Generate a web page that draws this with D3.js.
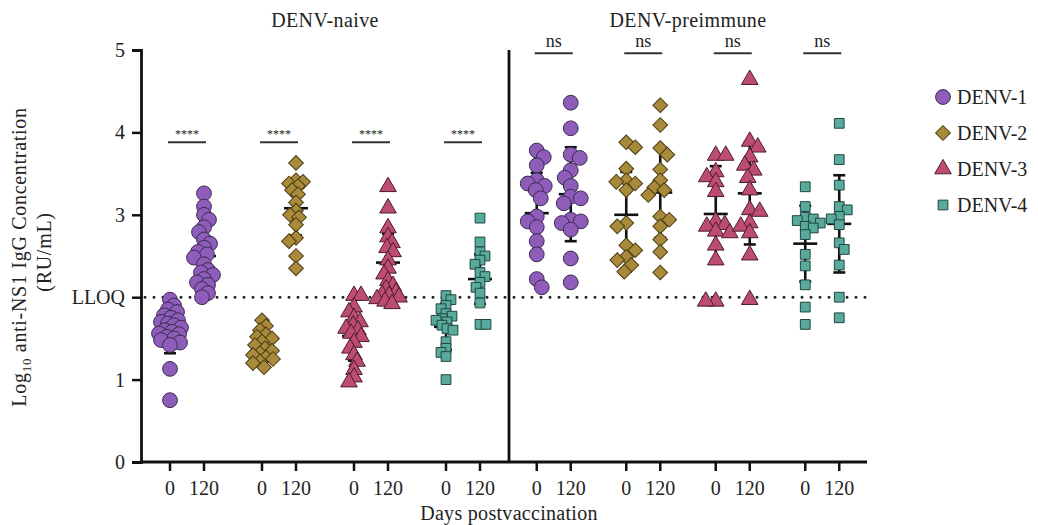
<!DOCTYPE html>
<html><head><meta charset="utf-8">
<script src="https://cdn.jsdelivr.net/npm/d3@7"></script>
<style>
body{margin:0;background:#fff;}
svg text{font-family:"Liberation Serif","Times New Roman",serif;fill:#222;}
</style></head>
<body><svg id="chart" width="1038" height="525"></svg>
<script>
// ---------- data ----------
const serotypes = ["DENV-1","DENV-2","DENV-3","DENV-4"];
const days = ["0","120"];
const panels = ["DENV-naive","DENV-preimmune"];
const yTickValues = [0,1,2,3,4,5];
const yTickLabels = ["0","1","LLOQ","3","4","5"];
const lloq = 2;

// DENV-naive, log10 values per serotype, day 0 and day 120
const naiveDenv1Day0 = [1.97,1.9,1.85,1.82,1.78,1.75,1.72,1.7,1.68,1.66,1.63,1.6,1.58,1.56,1.55,1.52,1.5,1.48,1.45,1.42,1.13,0.75];
const naiveDenv1Day120 = [3.26,3.1,3.0,2.94,2.85,2.79,2.7,2.65,2.6,2.55,2.52,2.48,2.4,2.33,2.3,2.27,2.22,2.18,2.15,2.1,2.05,2.0];
const naiveDenv2Day0 = [1.72,1.65,1.6,1.55,1.52,1.5,1.46,1.42,1.38,1.35,1.32,1.3,1.27,1.25,1.22,1.2,1.15];
const naiveDenv2Day120 = [3.63,3.42,3.4,3.38,3.35,3.3,3.25,3.15,3.05,3.0,2.97,2.88,2.72,2.68,2.5,2.35];
const naiveDenv3Day0 = [2.02,2.02,1.88,1.82,1.75,1.7,1.66,1.62,1.6,1.56,1.52,1.45,1.38,1.3,1.22,1.12,1.03,0.97];
const naiveDenv3Day120 = [3.34,3.08,2.84,2.73,2.66,2.6,2.55,2.45,2.35,2.28,2.2,2.14,2.1,2.06,2.03,2.02,2.0,1.98,1.95,1.92];
const naiveDenv4Day0 = [2.02,1.97,1.9,1.86,1.8,1.77,1.74,1.72,1.7,1.66,1.62,1.6,1.46,1.38,1.33,1.28,1.0];
const naiveDenv4Day120 = [2.96,2.67,2.55,2.5,2.45,2.4,2.3,2.25,2.18,2.12,2.05,1.93,1.67,1.67];
// DENV-preimmune
const preDenv1Day0 = [3.78,3.7,3.6,3.42,3.38,3.35,3.3,3.2,2.98,2.92,2.85,2.68,2.52,2.22,2.12];
const preDenv1Day120 = [4.36,4.05,3.73,3.69,3.54,3.45,3.35,3.22,3.2,3.14,2.94,2.92,2.9,2.82,2.47,2.18];
const preDenv2Day0 = [3.88,3.82,3.56,3.42,3.4,3.38,3.3,2.9,2.86,2.63,2.57,2.49,2.45,2.39,2.31];
const preDenv2Day120 = [4.33,4.09,3.81,3.73,3.55,3.42,3.33,3.3,3.24,2.98,2.94,2.86,2.7,2.55,2.3];
const preDenv3Day0 = [3.72,3.72,3.52,3.46,3.4,3.28,2.92,2.88,2.86,2.8,2.78,2.63,2.45,1.95,1.95];
const preDenv3Day120 = [4.64,3.89,3.82,3.7,3.6,3.54,3.45,3.3,3.06,3.04,2.9,2.86,2.78,2.51,1.97];
const preDenv4Day0 = [3.34,3.1,2.97,2.95,2.93,2.9,2.86,2.84,2.76,2.52,2.38,2.15,1.88,1.67];
const preDenv4Day120 = [4.11,3.67,3.36,3.1,3.06,2.98,2.95,2.88,2.66,2.58,2.39,2.0,1.75];

// group means and SDs [day0, day120]
const naiveMeans = [[1.6,2.5],[1.41,3.08],[1.53,2.42],[1.64,2.22]];
const naiveSDs   = [[0.28,0.35],[0.17,0.33],[0.3,0.35],[0.28,0.3]];
const preMeans   = [[3.02,3.25],[3.0,3.27],[3.01,3.26],[2.65,2.89]];
const preSDs     = [[0.49,0.57],[0.52,0.55],[0.58,0.62],[0.46,0.59]];

const naiveSig = ["****","****","****","****"];
const preSig = ["ns","ns","ns","ns"];

// ---------- layout ----------
const svg = d3.select("#chart");
const colors = ["#8d5db9","#a98a3a","#bd4d70","#58aa9d"];
const strokes = ["#3b2a52","#4a3b14","#4d1d2c","#21463f"];
const yAxisX = 141, xEnd = 867, divX = 509;
const y = d3.scaleLinear().domain([0,5]).range([462,50]);
const xNaive = d3.scaleBand().domain(serotypes).range([yAxisX, divX]);
const xPre = d3.scaleBand().domain(serotypes).range([divX, xEnd]);
const xDay = d3.scalePoint().domain(days).range([-17,17]);

const symbolDefs = [
  {type:d3.symbolCircle,size:172,rot:0},
  {type:d3.symbolSquare,size:108,rot:45},
  {type:d3.symbolTriangle,size:120,rot:0},
  {type:d3.symbolSquare,size:95,rot:0}
];
function symPath(i){ return d3.symbol().type(symbolDefs[i].type).size(symbolDefs[i].size)(); }

const groups = [
  {panel:0, data:[[naiveDenv1Day0,naiveDenv1Day120],[naiveDenv2Day0,naiveDenv2Day120],[naiveDenv3Day0,naiveDenv3Day120],[naiveDenv4Day0,naiveDenv4Day120]], means:naiveMeans, sds:naiveSDs, x:xNaive, minD:7, maxW:11},
  {panel:1, data:[[preDenv1Day0,preDenv1Day120],[preDenv2Day0,preDenv2Day120],[preDenv3Day0,preDenv3Day120],[preDenv4Day0,preDenv4Day120]], means:preMeans, sds:preSDs, x:xPre, minD:9.5, maxW:15}
];

// beeswarm offsets (layout only)
function swarm(values, minD, maxW){
  const idx = values.map((v,i)=>i).sort((a,b)=>values[b]-values[a]);
  const placed = [], off = new Array(values.length).fill(0);
  let flip = 1;
  idx.forEach(i=>{
    const py = y(values[i]);
    let best = 0, bestScore = -1;
    const cands = [0];
    for(let d=1; d<=maxW; d++){ cands.push(d*flip, -d*flip); }
    for(const c of cands){
      let md = Infinity;
      for(const p of placed){ const dd = Math.hypot(p[0]-c, p[1]-py); if(dd<md) md=dd; }
      if(md >= minD){ best = c; break; }
      if(md > bestScore){ bestScore = md; best = c; }
    }
    if(best !== 0) flip = -Math.sign(best);
    placed.push([best, py]); off[i] = best;
  });
  return off;
}

// LLOQ dotted line
svg.append("line").attr("x1",yAxisX+4).attr("x2",xEnd).attr("y1",y(lloq)).attr("y2",y(lloq))
  .attr("stroke","#222").attr("stroke-width",3).attr("stroke-dasharray","0,9").attr("stroke-linecap","round");

// error bars then points
groups.forEach(g=>{
  serotypes.forEach((s,si)=>{
    days.forEach((d,di)=>{
      const cx = g.x(s) + g.x.bandwidth()/2 + xDay(d);
      const m = g.means[si][di], sd = g.sds[si][di];
      const eb = svg.append("g").attr("stroke","#111").attr("stroke-width",2.6);
      eb.append("line").attr("x1",cx).attr("x2",cx).attr("y1",y(m+sd)).attr("y2",y(m-sd));
      eb.append("line").attr("x1",cx-12).attr("x2",cx+12).attr("y1",y(m)).attr("y2",y(m));
      eb.append("line").attr("x1",cx-6).attr("x2",cx+6).attr("y1",y(m+sd)).attr("y2",y(m+sd));
      eb.append("line").attr("x1",cx-6).attr("x2",cx+6).attr("y1",y(m-sd)).attr("y2",y(m-sd));
    });
  });
});
groups.forEach(g=>{
  serotypes.forEach((s,si)=>{
    days.forEach((d,di)=>{
      const cx = g.x(s) + g.x.bandwidth()/2 + xDay(d);
      const vals = g.data[si][di];
      const offs = swarm(vals, si===3 ? g.minD*0.85 : g.minD, g.maxW);
      svg.append("g").selectAll("path").data(vals).join("path")
        .attr("d", symPath(si))
        .attr("transform",(v,i)=>`translate(${cx+offs[i]},${y(v)}) rotate(${symbolDefs[si].rot})`)
        .attr("fill",colors[si]).attr("stroke",strokes[si]).attr("stroke-width",1);
    });
  });
});

// significance annotations
serotypes.forEach((s,si)=>{
  const cx = xNaive(s)+xNaive.bandwidth()/2;
  svg.append("line").attr("x1",cx-19).attr("x2",cx+19).attr("y1",y(3.88)).attr("y2",y(3.88)).attr("stroke","#333").attr("stroke-width",2);
  svg.append("text").attr("x",cx).attr("y",y(3.88)-4).attr("text-anchor","middle").attr("font-size",12).attr("fill","#444").text(naiveSig[si]);
  const px = xPre(s)+xPre.bandwidth()/2;
  svg.append("line").attr("x1",px-19).attr("x2",px+19).attr("y1",y(4.96)).attr("y2",y(4.96)).attr("stroke","#333").attr("stroke-width",2);
  svg.append("text").attr("x",px).attr("y",y(4.96)-6).attr("text-anchor","middle").attr("font-size",18).text(preSig[si]);
});

// axes
const yAxis = d3.axisLeft(y).tickValues(yTickValues).tickFormat((d,i)=>yTickLabels[i]).tickSize(9).tickPadding(7);
const ga = svg.append("g").attr("transform",`translate(${yAxisX},0)`).call(yAxis);
ga.select(".domain").attr("stroke","#111").attr("stroke-width",2.8);
ga.selectAll(".tick line").attr("stroke","#111").attr("stroke-width",2.5);
ga.selectAll("text").attr("font-size",20).attr("font-family","Liberation Serif, serif").attr("fill","#222");

[xNaive, xPre].forEach(xs=>{
  serotypes.forEach(s=>{
    days.forEach(d=>{
      const cx = xs(s)+xs.bandwidth()/2+xDay(d);
      svg.append("line").attr("x1",cx).attr("x2",cx).attr("y1",462).attr("y2",471).attr("stroke","#111").attr("stroke-width",2.5);
      svg.append("text").attr("x",cx).attr("y",495).attr("text-anchor","middle").attr("font-size",20).text(d);
    });
  });
});
svg.append("line").attr("x1",yAxisX-1).attr("x2",xEnd).attr("y1",462).attr("y2",462).attr("stroke","#111").attr("stroke-width",2.8);
svg.append("line").attr("x1",divX).attr("x2",divX).attr("y1",50).attr("y2",462).attr("stroke","#111").attr("stroke-width",2.8);

// titles
svg.append("text").attr("x",(yAxisX+divX)/2).attr("y",27).attr("text-anchor","middle").attr("font-size",20).attr("letter-spacing",0.4).text(panels[0]);
svg.append("text").attr("x",688).attr("y",27).attr("text-anchor","middle").attr("font-size",20).attr("letter-spacing",0.4).text(panels[1]);
svg.append("text").attr("x",509).attr("y",520).attr("text-anchor","middle").attr("font-size",20).attr("letter-spacing",0.3).text("Days postvaccination");

const yl = svg.append("text").attr("transform","translate(26,257) rotate(-90)").attr("text-anchor","middle").attr("font-size",20).attr("letter-spacing",0.7);
yl.append("tspan").text("Log");
yl.append("tspan").attr("font-size",13).attr("dy",5).text("10");
yl.append("tspan").attr("dy",-5).text(" anti-NS1 IgG Concentration");
svg.append("text").attr("transform","translate(51,252) rotate(-90)").attr("text-anchor","middle").attr("font-size",20).attr("letter-spacing",0.7).text("(RU/mL)");

// legend
serotypes.forEach((s,si)=>{
  const ly = 97 + si*36;
  svg.append("path").attr("d",symPath(si)).attr("transform",`translate(943,${ly}) rotate(${symbolDefs[si].rot})`)
    .attr("fill",colors[si]).attr("stroke",strokes[si]).attr("stroke-width",1);
  svg.append("text").attr("x",957).attr("y",ly+7).attr("font-size",20).text(s);
});
</script></body></html>
